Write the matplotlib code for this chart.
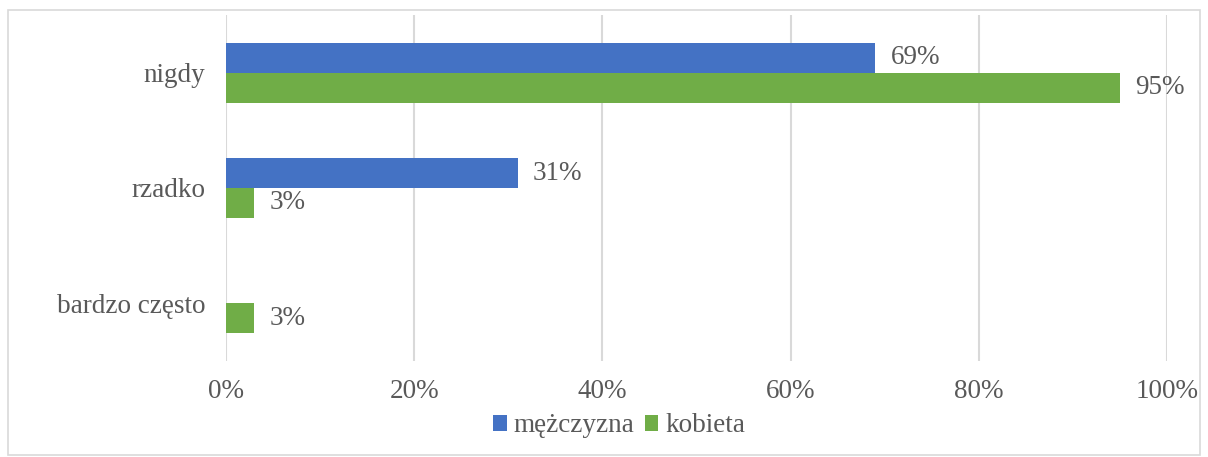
import matplotlib
matplotlib.use("Agg")
import matplotlib.pyplot as plt
from matplotlib.patches import Rectangle
import numpy as np

categories = ["nigdy", "rzadko", "bardzo często"]
series_names = ["mężczyzna", "kobieta"]
men = [69, 31, 0]
women = [95, 3, 3]
men_labels = ["69%", "31%", None]
women_labels = ["95%", "3%", "3%"]
xticks = [0, 20, 40, 60, 80, 100]
xtick_labels = ["0%", "20%", "40%", "60%", "80%", "100%"]

blue = "#4472C4"
green = "#70AD47"
txt = "#595959"
fs = 19.5

plt.rcParams['font.family'] = ['Liberation Serif', 'DejaVu Serif']

W, H = 1208, 457
fig = plt.figure(figsize=(W/100, H/100), dpi=100)
ax = fig.add_axes([226/W, 1-361/H, (1167-226)/W, (361-15)/H])

y = np.arange(len(categories))
bh = 0.26
ax.barh(y - bh/2, men, height=bh, color=blue, label=series_names[0], zorder=3)
ax.barh(y + bh/2, women, height=bh, color=green, label=series_names[1], zorder=3)

ax.set_ylim(len(categories)-0.5, -0.5)
ax.set_xlim(0, 100)
ax.set_xticks(xticks)
ax.set_xticklabels(xtick_labels)
ax.set_yticks(y)
ax.set_yticklabels(categories)
ax.grid(axis='x', color='#D9D9D9', linewidth=1.5, zorder=0)
for s in ax.spines.values():
    s.set_visible(False)
ax.tick_params(axis='both', length=0, labelsize=fs, colors=txt)
ax.tick_params(axis='x', pad=13)
ax.tick_params(axis='y', pad=15)

for i, (v, l) in enumerate(zip(men, men_labels)):
    if l:
        ax.annotate(l, (v, i - bh/2), xytext=(11, 0), textcoords='offset points',
                    va='center', ha='left', fontsize=fs, color=txt)
for i, (v, l) in enumerate(zip(women, women_labels)):
    if l:
        ax.annotate(l, (v, i + bh/2), xytext=(11, 0), textcoords='offset points',
                    va='center', ha='left', fontsize=fs, color=txt)

leg = fig.legend(loc='center', bbox_to_anchor=(619/W, 1-426/H), ncol=2, frameon=False,
                 fontsize=fs, handlelength=0.5, handleheight=0.5, handletextpad=0.25,
                 columnspacing=0.4, borderaxespad=0)
for t in leg.get_texts():
    t.set_color(txt)

fig.patches.append(Rectangle((8/W, 1-455/H), (1200-8)/W, (455-10)/H, transform=fig.transFigure,
                             fill=False, edgecolor='#D9D9D9', linewidth=1.2))

fig.savefig("out.png", dpi=100)
